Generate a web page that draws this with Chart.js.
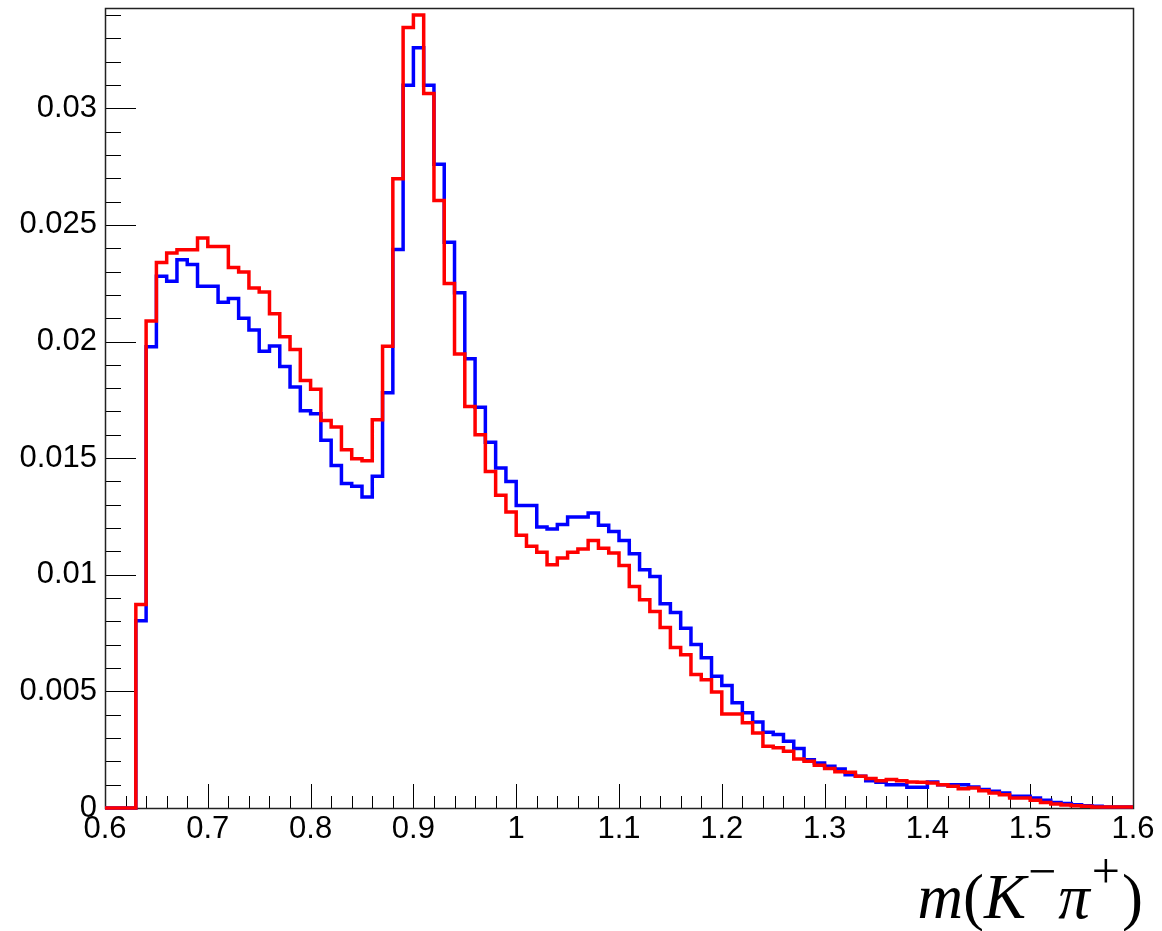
<!DOCTYPE html>
<html>
<head>
<meta charset="utf-8">
<title>m(K⁻π⁺)</title>
<script src="https://cdn.jsdelivr.net/npm/chart.js@4.4.1/dist/chart.umd.min.js"></script>
<style>
  html, body { margin: 0; padding: 0; background: #fff; }
  #wrap { width: 1162px; height: 931px; position: relative; }
  canvas { display: block; }
</style>
</head>
<body>
<div id="wrap"><canvas id="c" width="1162" height="931"></canvas></div>
<script>
// Histogram binning: 100 bins of 0.01 from 0.6 to 1.6
const xMin = 0.6;
const xMax = 1.6;
const binWidth = 0.01;

// Bin contents, blue histogram (bins 0.60 ... 1.59)
const blueCounts = [
  0, 0, 0, 0.00803, 0.01978, 0.0228, 0.02258, 0.02351, 0.0233, 0.02237,
  0.02237, 0.02168, 0.02185, 0.021, 0.02049, 0.01958, 0.01981, 0.01893, 0.01805, 0.01703,
  0.0169, 0.01577, 0.01468, 0.01391, 0.01379, 0.01333, 0.01422, 0.0178, 0.02395, 0.03099,
  0.0326, 0.03099, 0.0276, 0.02426, 0.02209, 0.01926, 0.01718, 0.01568, 0.01458, 0.014,
  0.01297, 0.01297, 0.01205, 0.01196, 0.01215, 0.01248, 0.01248, 0.01265, 0.01212, 0.01186,
  0.01147, 0.0109, 0.01021, 0.00993, 0.00876, 0.00838, 0.00771, 0.00701, 0.00644, 0.00565,
  0.00525, 0.00451, 0.00408, 0.00369, 0.00325, 0.00315, 0.00286, 0.00255, 0.00207, 0.00193,
  0.00179, 0.00167, 0.00143, 0.00136, 0.00117, 0.0011, 0.001, 0.001, 0.00089, 0.00089,
  0.00112, 0.001, 0.001, 0.001, 0.0009, 0.00079, 0.00072, 0.00064, 0.0005, 0.0005,
  0.00043, 0.00033, 0.00024, 0.00019, 0.00014, 0.0001, 0.00007, 0.00004, 0.00004, 0.00004
];

// Bin contents, red histogram (bins 0.60 ... 1.59)
const redCounts = [
  0, 0, 0, 0.00873, 0.02088, 0.02339, 0.0238, 0.02393, 0.02393, 0.02444,
  0.02407, 0.02407, 0.02317, 0.02298, 0.02229, 0.02212, 0.02119, 0.0202, 0.01966, 0.01833,
  0.01795, 0.01661, 0.01634, 0.01536, 0.01497, 0.01489, 0.01665, 0.0198, 0.02698, 0.03346,
  0.034, 0.03063, 0.02605, 0.02249, 0.01946, 0.01721, 0.016, 0.01443, 0.01341, 0.01269,
  0.01169, 0.01122, 0.01097, 0.01043, 0.01072, 0.01097, 0.0111, 0.01147, 0.01114, 0.01093,
  0.0104, 0.0095, 0.00893, 0.00843, 0.00774, 0.00688, 0.00657, 0.00572, 0.0055, 0.00497,
  0.00403, 0.00403, 0.00365, 0.00322, 0.00265, 0.00258, 0.00243, 0.0021, 0.002, 0.00183,
  0.00169, 0.00155, 0.00153, 0.00136, 0.00127, 0.00117, 0.00122, 0.00117, 0.00112, 0.0011,
  0.00107, 0.001, 0.00093, 0.00082, 0.00086, 0.00074, 0.00064, 0.00057, 0.00043, 0.00043,
  0.00033, 0.00024, 0.00017, 0.00013, 0.0001, 0.00007, 0.00004, 0.00004, 0.00004, 0.00004
];

// Axis ranges and tick spacing
const yMin = 0;
const yMax = 0.0343;
const xMajorStep = 0.1, xMinorPerMajor = 5;
const yMajorStep = 0.005, yMinorPerMajor = 5;

// Axis title pieces: [text, style]  (style: 'i' italic, 'r' upright, 's' superscript)
const xTitleParts = [['m', 'i'], ['(', 'r'], ['K', 'i'], ['\u2212', 's'], ['\u03C0', 'i'], ['+', 's'], [')', 'r']];

// Step points: one point per bin low edge, plus the closing upper edge
function stepPoints(counts) {
  const pts = counts.map((v, i) => ({ x: xMin + i * binWidth, y: v }));
  pts.push({ x: xMax, y: counts[counts.length - 1] });
  return pts;
}

function fmt(v) {
  return String(Number(v.toFixed(4)));
}

// Frame with inside tick marks (major + minor) and the x-axis title
const frameTicks = {
  id: 'frameTicks',
  beforeDatasetsDraw(chart) {
    const { ctx, chartArea: a, scales: { x, y } } = chart;
    ctx.save();
    ctx.strokeStyle = '#000';
    ctx.lineWidth = 1;
    ctx.beginPath();
    const nx = Math.round((xMax - xMin) / xMajorStep) * xMinorPerMajor;
    for (let i = 0; i <= nx; i++) {
      const v = xMin + i * xMajorStep / xMinorPerMajor;
      const px = Math.round(x.getPixelForValue(v)) + 0.5;
      const len = (i % xMinorPerMajor === 0) ? 24 : 12;
      ctx.moveTo(px, a.bottom);
      ctx.lineTo(px, a.bottom - len);
    }
    const ny = Math.floor((yMax - yMin) / (yMajorStep / yMinorPerMajor) + 1e-6);
    for (let j = 0; j <= ny; j++) {
      const v = yMin + j * yMajorStep / yMinorPerMajor;
      const py = Math.round(y.getPixelForValue(v)) + 0.5;
      const len = (j % yMinorPerMajor === 0) ? 31 : 16;
      ctx.moveTo(a.left, py);
      ctx.lineTo(a.left + len, py);
    }
    ctx.stroke();
    ctx.lineWidth = 1.5;
    ctx.strokeStyle = '#222';
    ctx.strokeRect(Math.round(a.left) + 0.5, Math.round(a.top) + 0.5,
                   Math.round(a.right - a.left), Math.round(a.bottom - a.top));
    ctx.restore();
  },
  afterDraw(chart) {
    const { ctx } = chart;
    const size = 63, supSize = 50, supRaise = 30, supGap = 2;
    const fam = '"Liberation Serif", "Times New Roman", serif';
    const fontFor = s => s === 'i' ? `italic ${size}px ${fam}` : (s === 's' ? `${supSize}px ${fam}` : `${size}px ${fam}`);
    ctx.save();
    ctx.fillStyle = '#000';
    ctx.textBaseline = 'alphabetic';
    ctx.textAlign = 'left';
    let total = 0;
    const widths = xTitleParts.map(([t, s]) => {
      ctx.font = fontFor(s);
      const w = ctx.measureText(t).width + (s === 's' ? 2 * supGap : 0);
      total += w;
      return w;
    });
    let cx = 1143 - total;
    const base = 918;
    xTitleParts.forEach(([t, s], k) => {
      ctx.font = fontFor(s);
      if (s === 's') ctx.fillText(t, cx + supGap, base - supRaise);
      else ctx.fillText(t, cx, base);
      cx += widths[k];
    });
    ctx.restore();
  }
};

const tickFont = { family: '"Liberation Sans", Arial, Helvetica, sans-serif', size: 31 };

const lineStyle = {
  borderWidth: 3.5,
  stepped: 'before',
  pointRadius: 0,
  fill: false,
  clip: false,
  borderJoinStyle: 'miter',
  borderCapStyle: 'butt'
};

new Chart(document.getElementById('c'), {
  type: 'line',
  data: {
    datasets: [
      Object.assign({ data: stepPoints(redCounts), borderColor: '#ff0000', order: 0 }, lineStyle),
      Object.assign({ data: stepPoints(blueCounts), borderColor: '#0000ff', order: 1 }, lineStyle)
    ]
  },
  options: {
    responsive: false,
    animation: false,
    devicePixelRatio: 1,
    layout: { padding: { top: 8, right: 29, left: 0, bottom: 0 } },
    plugins: { legend: { display: false }, tooltip: { enabled: false }, title: { display: false } },
    scales: {
      x: {
        type: 'linear',
        min: xMin,
        max: xMax,
        grid: { display: false, drawTicks: false },
        border: { display: false },
        ticks: {
          stepSize: xMajorStep,
          autoSkip: false,
          maxRotation: 0,
          includeBounds: false,
          padding: 3,
          color: '#000',
          font: tickFont,
          callback: v => fmt(v)
        },
        afterFit(scale) {
          scale.height = 123;
          scale.paddingLeft = 0;
          scale.paddingRight = 0;
        }
      },
      y: {
        type: 'linear',
        min: yMin,
        max: yMax,
        grid: { display: false, drawTicks: false },
        border: { display: false },
        ticks: {
          stepSize: yMajorStep,
          autoSkip: false,
          includeBounds: false,
          padding: 8,
          color: '#000',
          font: tickFont,
          callback: v => fmt(v)
        },
        afterFit(scale) {
          scale.width = 105;
          scale.paddingTop = 0;
          scale.paddingBottom = 0;
        }
      }
    }
  },
  plugins: [frameTicks]
});
</script>
</body>
</html>
